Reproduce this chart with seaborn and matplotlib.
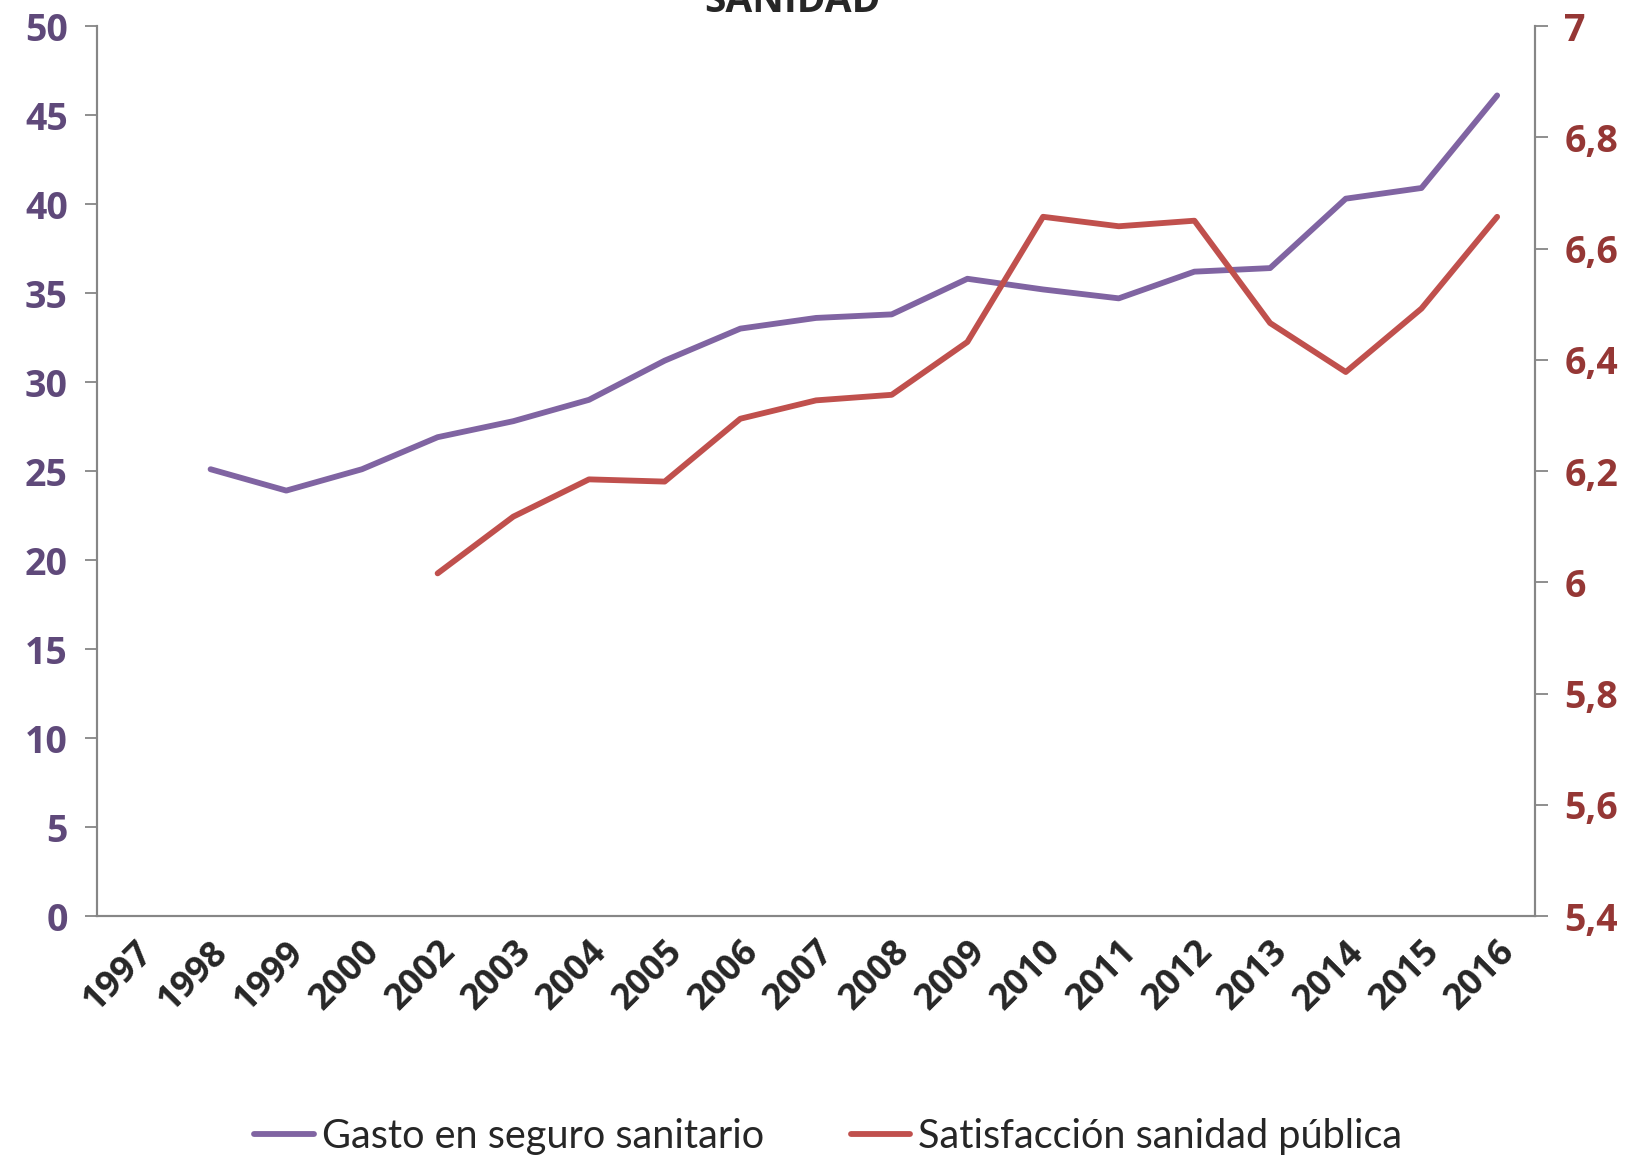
import numpy as np
import pandas as pd
import matplotlib
matplotlib.use("Agg")
import matplotlib.pyplot as plt
from matplotlib import font_manager
import seaborn as sns

# data
years = ["1997", "1998", "1999", "2000", "2002", "2003", "2004", "2005", "2006",
         "2007", "2008", "2009", "2010", "2011", "2012", "2013", "2014", "2015", "2016"]
gasto = [np.nan, 25.1, 23.9, 25.1, 26.9, 27.8, 29.0, 31.2, 33.0,
         33.6, 33.8, 35.8, 35.2, 34.7, 36.2, 36.4, 40.3, 40.9, 46.1]
satisfaccion = [np.nan, np.nan, np.nan, np.nan, 6.016, 6.118, 6.185, 6.181, 6.294,
                6.327, 6.337, 6.432, 6.657, 6.640, 6.650, 6.466, 6.378, 6.492, 6.657]
left_ticks = [0, 5, 10, 15, 20, 25, 30, 35, 40, 45, 50]
right_ticks = [5.4, 5.6, 5.8, 6.0, 6.2, 6.4, 6.6, 6.8, 7.0]
right_labels = ["5,4", "5,6", "5,8", "6", "6,2", "6,4", "6,6", "6,8", "7"]

sns.set_style("white")
available = {f.name for f in font_manager.fontManager.ttflist}
legend_family = [f for f in ["Lato", "Open Sans", "DejaVu Sans"] if f in available]
tick_family = [f for f in ["Open Sans", "DejaVu Sans"] if f in available]
plt.rcParams["font.family"] = legend_family

purple = "#8064A2"
red = "#C0504D"
purple_dark = "#5F497A"
red_dark = "#953735"
gray = "#868686"

df = pd.DataFrame({"pos": np.arange(len(years)), "year": years,
                   "gasto": gasto, "satisfaccion": satisfaccion})

fig = plt.figure(figsize=(16.34, 11.61), dpi=100)
ax = fig.add_axes([0.0594, 0.211, 0.88, 0.7666])
ax2 = ax.twinx()

sns.lineplot(data=df, x="pos", y="gasto", ax=ax, color=purple, linewidth=4.2,
             label="Gasto en seguro sanitario", legend=False)
sns.lineplot(data=df, x="pos", y="satisfaccion", ax=ax2, color=red, linewidth=4.2,
             label="Satisfacción sanidad pública", legend=False)

n = len(years)
ax.set_xlim(-0.5, n - 0.5)
ax.set_ylim(0, 50)
ax2.set_ylim(5.4, 7.0)

# boundary tick marks, labels at category centres
ax.set_xticks(np.arange(-0.5, n, 1.0))
ax.set_xticklabels([])
ax.set_xticks(np.arange(n), minor=True)
ax.set_xticklabels(years, minor=True, rotation=45, ha="right", va="top",
                   rotation_mode="anchor", fontsize=26, fontweight="bold", family=tick_family)
ax.tick_params(axis="x", which="major", direction="inout", length=12, width=1.3, color=gray)
ax.tick_params(axis="x", which="minor", length=0, pad=13)

ax.set_yticks(left_ticks)
ax.set_yticklabels([str(t) for t in left_ticks], fontsize=27, fontweight="bold",
                   color=purple_dark, family=tick_family)
ax.tick_params(axis="y", direction="out", length=9, width=1.3, color=gray, pad=12)
ax2.set_yticks(right_ticks)
ax2.set_yticklabels(right_labels, fontsize=27, fontweight="bold", color=red_dark, family=tick_family)
ax2.tick_params(axis="y", direction="out", length=9, width=1.3, color=gray, pad=12)

ax.set_xlabel("")
ax.set_ylabel("")
ax2.set_ylabel("")
for a in (ax, ax2):
    a.spines["top"].set_visible(False)
    for s in ("left", "right", "bottom"):
        a.spines[s].set_color(gray)
        a.spines[s].set_linewidth(1.5)
ax.grid(False)
ax2.grid(False)

fig.text(0.485, 0.999, "SANIDAD", ha="center", va="center", fontsize=28,
         fontweight="bold", family=tick_family)

h1, l1 = ax.get_legend_handles_labels()
h2, l2 = ax2.get_legend_handles_labels()
fig.legend(h1 + h2, l1 + l2, loc="center", bbox_to_anchor=(0.507, 0.021), ncol=2,
           frameon=False, fontsize=28.5, handlelength=1.5, handletextpad=0.2, columnspacing=2.2)

plt.savefig("out.png", dpi=100)
